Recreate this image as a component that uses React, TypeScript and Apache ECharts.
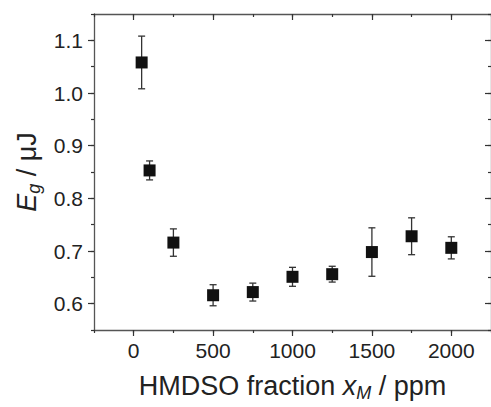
import React, { useEffect, useRef } from "react";
import * as echarts from "echarts";

const xValues = [50, 100, 250, 500, 750, 1000, 1250, 1500, 1750, 2000];
const egValues = [1.058, 0.853, 0.716, 0.616, 0.622, 0.651, 0.656, 0.698, 0.728, 0.706];
const egErrors = [0.05, 0.018, 0.026, 0.02, 0.017, 0.018, 0.015, 0.046, 0.035, 0.021];
const xMajorTicks = [0, 500, 1000, 1500, 2000];
const yMajorTicks = [0.6, 0.7, 0.8, 0.9, 1.0, 1.1];

const FONT = "'Liberation Sans', Arial, sans-serif";
const AXIS_LINE = { show: true, onZero: false, lineStyle: { color: "#555", width: 1.3 } };
const NO_LINE = { show: false, onZero: false };
const TICK_STYLE = { color: "#333", width: 1.2 };

export default function App() {
  const ref = useRef<HTMLDivElement>(null);
  useEffect(() => {
    if (!ref.current) return;
    const chart = echarts.init(ref.current, undefined, { renderer: "svg" });
    const xRange = { min: -250, max: 2250 };
    const yRange = { min: 0.55, max: 1.15 };
    const nameRich = {
      n: { fontSize: 27, fontFamily: FONT, color: "#222", lineHeight: 32 },
      i: { fontSize: 27, fontFamily: FONT, color: "#222", fontStyle: "italic", lineHeight: 32 },
      s: { fontSize: 18, fontFamily: FONT, color: "#222", fontStyle: "italic", lineHeight: 14, verticalAlign: "bottom" },
    };
    const option: any = {
      animation: false,
      backgroundColor: "#fff",
      grid: { left: 94, top: 14, width: 401.5, height: 320.7, containLabel: false },
      xAxis: [
        {
          type: "value", position: "bottom", ...xRange,
          axisLine: AXIS_LINE,
          axisTick: { show: true, inside: false, length: 6, customValues: xMajorTicks, lineStyle: TICK_STYLE },
          axisLabel: {
            show: true, customValues: xMajorTicks, margin: 10, fontSize: 21, fontFamily: FONT, color: "#222",
            formatter: (v: number) => String(v),
          },
          splitLine: { show: false },
          name: "{n|HMDSO fraction }{i|x}{s|M}{n| / ppm}",
          nameLocation: "middle",
          nameGap: 40,
          nameTextStyle: { rich: nameRich },
        },
        {
          type: "value", position: "bottom", ...xRange, interval: 250,
          axisLine: NO_LINE,
          axisTick: { show: true, inside: false, length: 3, lineStyle: TICK_STYLE },
          axisLabel: { show: false },
          splitLine: { show: false },
        },
        {
          type: "value", position: "top", ...xRange,
          axisLine: AXIS_LINE,
          axisTick: { show: true, inside: true, length: 6, customValues: xMajorTicks, lineStyle: TICK_STYLE },
          axisLabel: { show: false },
          splitLine: { show: false },
        },
        {
          type: "value", position: "top", ...xRange, interval: 250,
          axisLine: NO_LINE,
          axisTick: { show: true, inside: true, length: 3, lineStyle: TICK_STYLE },
          axisLabel: { show: false },
          splitLine: { show: false },
        },
      ],
      yAxis: [
        {
          type: "value", position: "left", ...yRange,
          axisLine: AXIS_LINE,
          axisTick: { show: true, inside: false, length: 6, customValues: yMajorTicks, lineStyle: TICK_STYLE },
          axisLabel: {
            show: true, customValues: yMajorTicks, margin: 11, fontSize: 21, fontFamily: FONT, color: "#222",
            formatter: (v: number) => v.toFixed(1),
          },
          splitLine: { show: false },
          name: "{i|E}{s|g}{n| / μJ}",
          nameLocation: "middle",
          nameGap: 50,
          nameTextStyle: { rich: nameRich },
        },
        {
          type: "value", position: "left", ...yRange, interval: 0.05,
          axisLine: NO_LINE,
          axisTick: { show: true, inside: false, length: 3, lineStyle: TICK_STYLE },
          axisLabel: { show: false },
          splitLine: { show: false },
        },
        {
          type: "value", position: "right", ...yRange,
          axisLine: AXIS_LINE,
          axisTick: { show: true, inside: true, length: 6, customValues: yMajorTicks, lineStyle: TICK_STYLE },
          axisLabel: { show: false },
          splitLine: { show: false },
        },
        {
          type: "value", position: "right", ...yRange, interval: 0.05,
          axisLine: NO_LINE,
          axisTick: { show: true, inside: true, length: 3, lineStyle: TICK_STYLE },
          axisLabel: { show: false },
          splitLine: { show: false },
        },
      ],
      series: [
        {
          type: "custom",
          xAxisIndex: 0,
          yAxisIndex: 0,
          z: 1,
          data: xValues.map((x, i) => [x, egValues[i] - egErrors[i], egValues[i] + egErrors[i]]),
          renderItem: (params: any, api: any) => {
            const lo = api.coord([api.value(0), api.value(1)]);
            const hi = api.coord([api.value(0), api.value(2)]);
            const cap = 3.5;
            const style = { stroke: "#333", lineWidth: 1.3 };
            return {
              type: "group",
              children: [
                { type: "line", shape: { x1: lo[0], y1: lo[1], x2: hi[0], y2: hi[1] }, style },
                { type: "line", shape: { x1: lo[0] - cap, y1: lo[1], x2: lo[0] + cap, y2: lo[1] }, style },
                { type: "line", shape: { x1: hi[0] - cap, y1: hi[1], x2: hi[0] + cap, y2: hi[1] }, style },
              ],
            };
          },
        },
        {
          type: "scatter",
          xAxisIndex: 0,
          yAxisIndex: 0,
          z: 2,
          symbol: "rect",
          symbolSize: 12,
          itemStyle: { color: "#111", opacity: 1 },
          data: xValues.map((x, i) => [x, egValues[i]]),
        },
      ],
    };
    chart.setOption(option);
    return () => chart.dispose();
  }, []);
  return (
    <div
      ref={ref}
      style={{ position: "fixed", left: 0, top: 0, width: 491, height: 407, background: "#fff" }}
    />
  );
}
